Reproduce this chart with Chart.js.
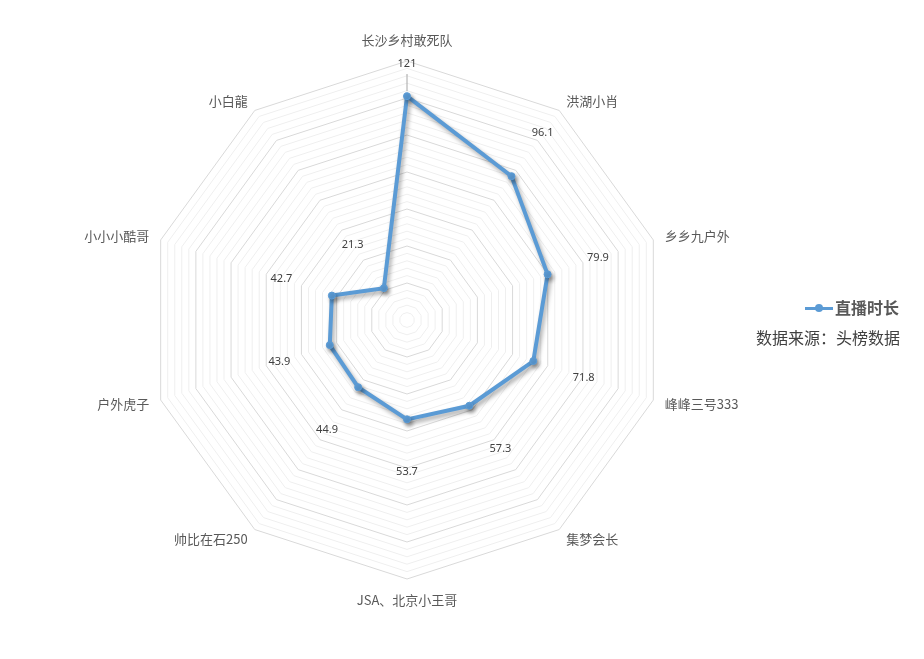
<!DOCTYPE html>
<html>
<head>
<meta charset="utf-8">
<script src="https://cdn.jsdelivr.net/npm/chart.js@4/dist/chart.umd.min.js"></script>
<style>
  html, body { margin: 0; padding: 0; background: #fff; }
  #wrap { position: relative; width: 924px; height: 659px; }
  #legend { position: absolute; left: 756px; top: 296px; font-family: "Noto Sans CJK SC", sans-serif; color: #404040; }
  #legend .row1 { position: relative; height: 24px; }
  #legend .line { position: absolute; left: 49px; top: 11px; width: 28px; height: 3px; background: #5B9BD5; }
  #legend .dot { position: absolute; left: 59px; top: 8px; width: 8px; height: 8px; border-radius: 50%; background: #5B9BD5; }
  #legend .name { position: absolute; left: 79px; top: -1px; font-size: 16px; font-weight: bold; white-space: nowrap; color: #595959; line-height: 24px; }
  #legend .src { margin-top: 5px; font-size: 16px; white-space: nowrap; color: #404040; line-height: 24px; }
</style>
</head>
<body>
<div id="wrap">
  <canvas id="c"></canvas>
  <div id="legend">
    <div class="row1"><div class="line"></div><div class="dot"></div><div class="name">直播时长</div></div>
    <div class="src">数据来源：头榜数据</div>
  </div>
</div>
<script>
const categories = ["长沙乡村敢死队", "洪湖小肖", "乡乡九户外", "峰峰三号333", "集梦会长", "JSA、北京小王哥", "帅比在石250", "户外虎子", "小小小酷哥", "小白龍"];
const seriesName = "直播时长";
const durations = [121, 96.1, 79.9, 71.8, 57.3, 53.7, 44.9, 43.9, 42.7, 21.3];
const axisMax = 140;
const majorStep = 20;
const minorStep = 4;

const labelsPlugin = {
  id: 'customLabels',
  afterDatasetsDraw(chart) {
    const ctx = chart.ctx;
    const scale = chart.scales.r;
    const R = scale.drawingArea;
    ctx.save();
    // category labels
    ctx.font = '13px "Noto Sans CJK SC", sans-serif';
    ctx.fillStyle = '#595959';
    ctx.textBaseline = 'middle';
    categories.forEach((name, i) => {
      const ang = (Math.PI * 2 / categories.length) * i;
      const s = Math.sin(ang);
      const d = Math.abs(s) > 0.1 ? 12 : 21;
      const p = scale.getPointPosition(i, R + d);
      ctx.textAlign = Math.abs(s) < 0.1 ? 'center' : (s > 0 ? 'left' : 'right');
      ctx.fillText(name, p.x, p.y);
    });
    // data labels
    ctx.font = '11px "Noto Sans", sans-serif';
    ctx.fillStyle = '#404040';
    ctx.textAlign = 'center';
    durations.forEach((v, i) => {
      const r = scale.getDistanceFromCenterForValue(v);
      let lr = r + 53;
      const maxR = R - 3;
      if (lr > maxR) {
        lr = maxR;
        const a = scale.getPointPosition(i, lr - 10);
        const b = scale.getPointPosition(i, r + 5);
        ctx.strokeStyle = '#A6A6A6';
        ctx.lineWidth = 1;
        ctx.beginPath();
        ctx.moveTo(a.x, a.y);
        ctx.lineTo(b.x, b.y);
        ctx.stroke();
      }
      const p = scale.getPointPosition(i, lr);
      ctx.fillText(String(v), p.x, p.y);
    });
    ctx.restore();
  }
};

const shadowPlugin = {
  id: 'lineShadow',
  beforeDatasetDraw(chart) {
    const ctx = chart.ctx;
    ctx.save();
    ctx.shadowColor = 'rgba(0,0,0,0.35)';
    ctx.shadowBlur = 4;
    ctx.shadowOffsetX = 2;
    ctx.shadowOffsetY = 3;
  },
  afterDatasetDraw(chart) {
    chart.ctx.restore();
  }
};

new Chart(document.getElementById('c'), {
  type: 'radar',
  data: {
    labels: categories,
    datasets: [{
      label: seriesName,
      data: durations,
      borderColor: '#5B9BD5',
      backgroundColor: 'rgba(0,0,0,0)',
      borderWidth: 4,
      fill: false,
      pointRadius: 3.5,
      pointBackgroundColor: '#5B9BD5',
      pointBorderColor: '#5B9BD5',
      pointBorderWidth: 1,
      tension: 0
    }]
  },
  options: {
    responsive: true,
    maintainAspectRatio: false,
    animation: false,
    devicePixelRatio: 1,
    layout: { padding: { left: 148, right: 258, top: 61, bottom: 80 } },
    plugins: { legend: { display: false }, tooltip: { enabled: false } },
    scales: {
      r: {
        min: 0,
        max: axisMax,
        ticks: { display: false, stepSize: minorStep },
        pointLabels: { display: false },
        angleLines: { display: false },
        grid: {
          color: (ctx) => (ctx.tick && ctx.tick.value % majorStep === 0) ? '#D9D9D9' : '#EFEFEF',
          lineWidth: 1
        }
      }
    }
  },
  plugins: [shadowPlugin, labelsPlugin]
});
</script>
</body>
</html>
